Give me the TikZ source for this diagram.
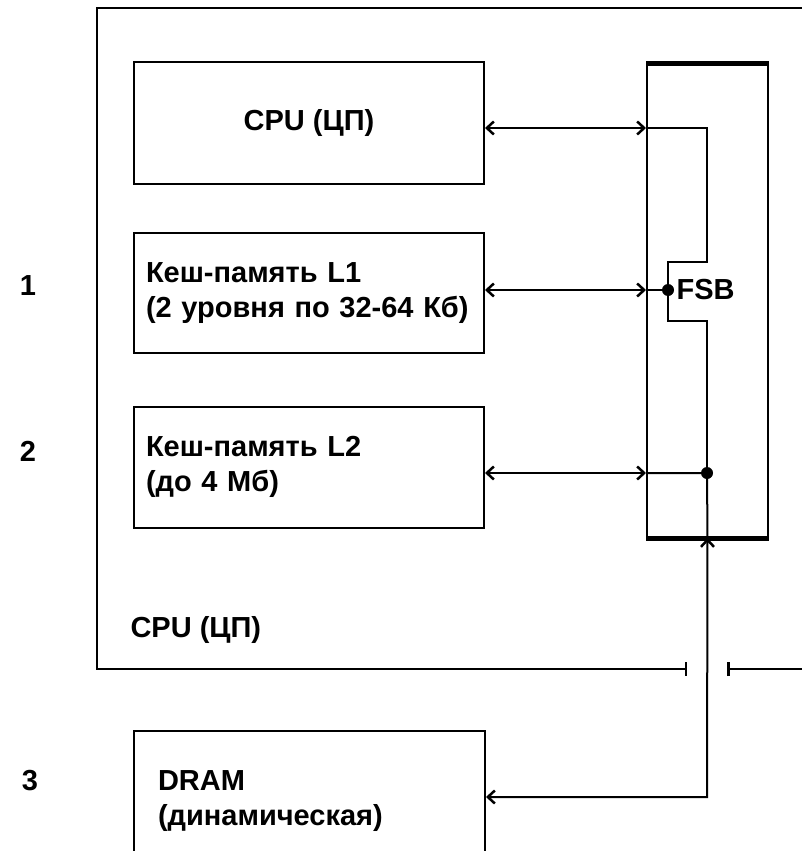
\documentclass[tikz,border=0pt]{standalone}
\usepackage{fontspec}
\setmainfont{Liberation Sans}
\usetikzlibrary{arrows.meta,calc}
\newcommand\lbl{\fontsize{29}{35}\selectfont\bfseries}

\begin{document}
\begin{tikzpicture}[x=1pt, y=-1pt, >={Straight Barb[length=7pt,width=13pt,line width=2.5pt]},
  blk/.style={rectangle, draw, line width=2pt, minimum width=350pt, font=\lbl, inner sep=0pt},
  bus/.style={line width=2pt},
  frame/.style={line width=2.5pt}]
\useasboundingbox (0,0) rectangle (802,851);
\clip (0,0) rectangle (802,851);
% Blocks
\node[blk, minimum height=121pt] (cpu) at (309,123) {CPU (ЦП)};
\node[blk, minimum height=120pt, align=left, text width=326pt, inner xsep=12pt] (lone) at (309,293) {Кеш-память L1\\(2 уровня по 32-64 Кб)};
\node[blk, minimum height=121pt, align=left, text width=326pt, inner xsep=12pt] (ltwo) at (309,467) {Кеш-память L2\\(до 4 Мб)};
\node[blk, minimum height=140pt, align=left, text width=303pt, inner xsep=24pt] (dram) at (309.5,801) {DRAM\\(динамическая)};
% FSB box, thick top and bottom
\node[draw, line width=2pt, minimum width=121pt, minimum height=472pt, inner sep=0pt] (fsb) at (707.5,301) {};
\draw[line width=5pt] (fsb.north west) -- (fsb.north east);
\draw[line width=5pt] (fsb.south west) -- (fsb.south east);
% Bus junctions
\coordinate (t0) at (707,128);
\coordinate (j1) at (668,290);
\coordinate (j2) at (707,473);
\coordinate (dturn) at (707,797);
\fill (j1) circle (6pt);
\fill (j2) circle (6pt);
\node[font=\lbl, anchor=west] (fsblbl) at ([xshift=5pt]j1) {FSB};
% Bus lines
\draw[bus,<->] (cpu.east |- t0) -- (fsb.west |- t0);
\draw[bus] (fsb.west |- t0) -- (t0) -- (707,262) -- (668,262) -- (j1);
\draw[bus,<->] (lone.east |- j1) -- (fsb.west |- j1);
\draw[bus] (fsb.west |- j1) -- (j1);
\draw[bus] (j1) -- ++(0,31) -| (j2);
\draw[bus,<->] (ltwo.east |- j2) -- (fsb.west |- j2);
\draw[bus] (fsb.west |- j2) -- (j2) -- (fsb.south);
\draw[bus,<->] (fsb.south) -- (dturn) -- (dram.east |- dturn);
% Outer CPU frame with gap
\coordinate (gapl) at (687,669);
\coordinate (gapr) at (727,669);
\draw[frame,-{Bar[width=14pt]}] (810,8) -- (97,8) -- (97,669) -- (gapl);
\draw[frame,{Bar[width=14pt]}-] (gapr) -- (810,669);
\node[font=\lbl, anchor=base west] (cpulbl) at (127,637) {CPU (ЦП)};
% Level numbers
\node[font=\lbl] (n1) at (28,286) {1};
\node[font=\lbl] (n2) at (28,451) {2};
\node[font=\lbl] (n3) at (30,781) {3};
\end{tikzpicture}
\end{document}
